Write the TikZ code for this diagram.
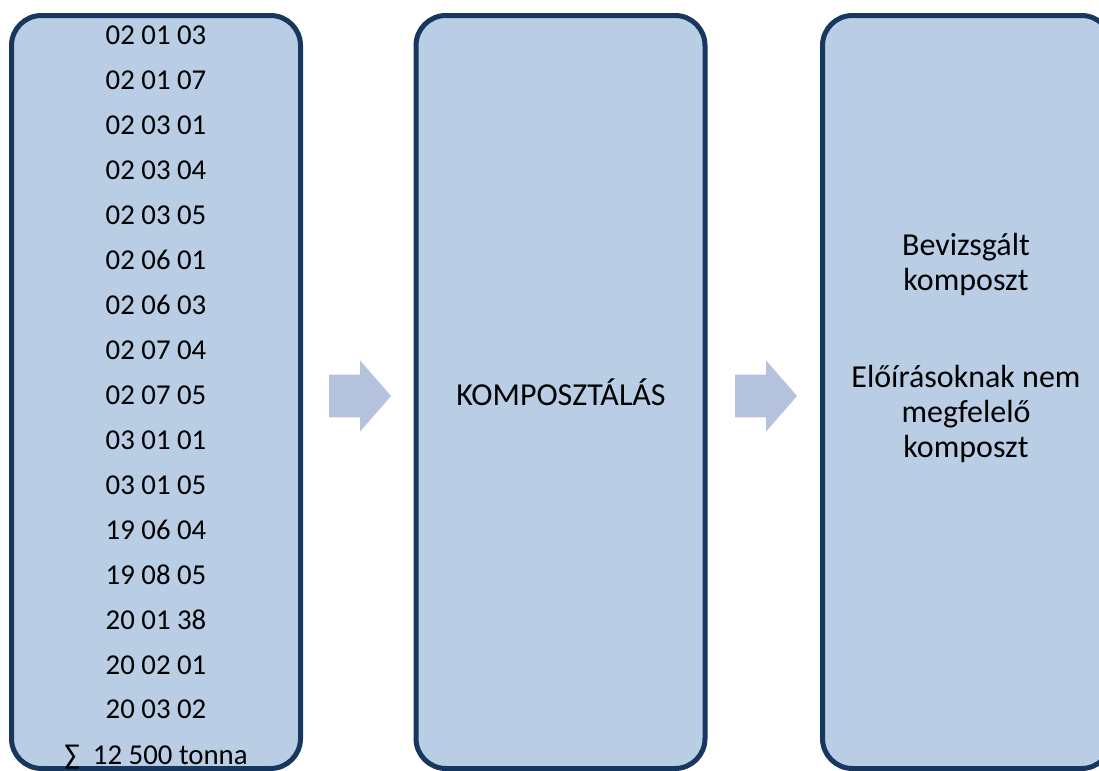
\documentclass[tikz,border=0pt]{standalone}
\usepackage{fontspec}
\setmainfont{Carlito}
\usetikzlibrary{shapes.arrows}
\definecolor{boxfill}{HTML}{B9CDE5}
\definecolor{boxline}{HTML}{17375E}
\definecolor{arrowfill}{HTML}{B4C2DE}
\tikzset{
  stage/.style={draw=boxline,fill=boxfill,line width=2.5pt,rounded corners=15pt,
    minimum width=144.5pt,minimum height=376.5pt,inner sep=0pt,outer sep=0pt},
  flow/.style={single arrow,fill=arrowfill,draw=none,inner xsep=0pt,inner ysep=10.5pt,
    outer sep=0pt,minimum height=31pt,single arrow head extend=7pt,
    single arrow tip angle=98,anchor=tail},
  label/.style={anchor=base,inner sep=0pt,font=\fontsize{14.4}{17}\selectfont},
  biglabel/.style={anchor=base,inner sep=0pt,font=\fontsize{16}{19}\selectfont}
}
\begin{document}
\begin{tikzpicture}[x=0.5pt,y=-0.5pt]
\useasboundingbox (0,0) rectangle (1099,771);
\node[stage] (waste) at (156,392) {};
\node[stage] (compost) at (560.5,392) {};
\node[stage] (result) at (967,392) {};
\node[flow] (arrowA) at (329,396) {};
\node[flow] (arrowB) at (735,396) {};
\foreach \code [count=\i from 0] in {02 01 03,02 01 07,02 03 01,02 03 04,02 03 05,02 06 01,
  02 06 03,02 07 04,02 07 05,03 01 01,03 01 05,19 06 04,19 08 05,20 01 38,20 02 01,20 03 02}
  \node[label] (code\i) at (156,45+44.93*\i) {\code};
\node[label] (total) at (156,764) {∑\ \ 12 500 tonna};
\node[biglabel] (process) at (561,405) {KOMPOSZTÁLÁS};
\node[biglabel] (pass1) at (966,255) {Bevizsgált};
\node[biglabel] (pass2) at (966,290) {komposzt};
\node[biglabel] (fail1) at (966,387) {Előírásoknak nem};
\node[biglabel] (fail2) at (966,422) {megfelelő};
\node[biglabel] (fail3) at (966,457) {komposzt};
\end{tikzpicture}
\end{document}
